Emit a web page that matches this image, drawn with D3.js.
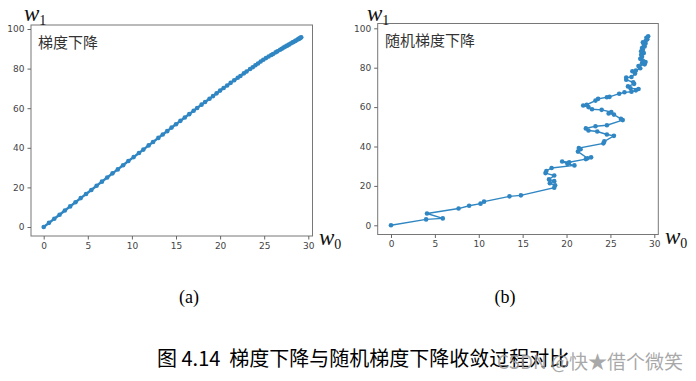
<!DOCTYPE html>
<html><head><meta charset="utf-8">
<script src="https://cdn.jsdelivr.net/npm/d3@7"></script>
<style>body{margin:0;background:#fff}svg{display:block}</style>
</head><body>
<script>
// Gradient descent path (w0, w1)
const gdW0 = [0,0.6,1.2,1.8,2.4,3.0,3.6,4.2,4.8,5.4,6.0,6.6,7.2,7.8,8.4,9.0,9.6,10.2,10.8,11.3,11.9,12.4,13.0,13.5,14.0,14.5,15.0,15.5,16.0,16.5,17.0,17.4,17.9,18.3,18.8,19.2,19.6,20.0,20.4,20.8,21.2,21.6,22.0,22.3,22.7,23.0,23.4,23.7,24.0,24.3,24.6,24.9,25.2,25.5,25.8,26.0,26.3,26.5,26.8,27.0,27.2,27.4,27.6,27.8,28.0,28.2,28.3,28.5,28.6,28.8,28.9,29.0,29.1,29.2];
const gdW1 = [0,2.1,4.2,6.2,8.3,10.4,12.5,14.6,16.7,18.7,20.8,22.9,25.0,27.1,29.1,31.2,33.3,35.3,37.4,39.1,41.2,42.9,45.0,46.7,48.4,50.2,51.9,53.6,55.3,57.0,58.7,60.1,61.8,63.1,64.8,66.1,67.5,68.9,70.2,71.5,72.8,74.1,75.4,76.3,77.6,78.5,79.8,80.7,81.7,82.6,83.6,84.5,85.3,86.1,86.9,87.4,88.2,88.7,89.5,90.0,90.6,91.1,91.6,92.1,92.7,93.2,93.4,93.9,94.2,94.7,95.0,95.2,95.5,95.8];

// Stochastic gradient descent path (w0, w1)
const sgdW0 = [0,4.0,5.9,4.1,7.7,8.9,10.2,10.6,13.5,14.8,18.6,18.7,18.1,18.6,18.0,18.6,17.6,17.7,18.3,20.9,20.1,19.5,20.3,22.2,22.8,22.4,21.3,21.6,21.4,24.2,24.3,25.4,24.6,23.5,22.5,22.2,23.3,24.6,26.4,26.2,25.4,24.8,25.1,24.0,22.9,22.5,21.9,22.3,23.3,23.6,24.6,24.9,26.0,26.6,27.4,27.9,28.2,27.3,27.0,27.7,27.6,26.8,26.8,27.4,27.8,27.5,27.9,28.4,28.2,28.9,28.6,29.0,28.7,28.4,28.6,28.5,28.8,28.5,28.7,28.6,28.9,28.8,29.0,28.7,29.0,29.2,29.1,29.3];
const sgdW1 = [0,3.0,3.5,6.0,8.5,9.9,11.0,12.0,14.7,15.2,19.1,20.3,21.4,22.4,23.3,25.3,26.5,27.6,29.1,30.4,31.2,32.4,32.0,33.6,34.5,34.0,37.4,38.6,39.2,41.6,42.6,45.4,46.1,47.6,48.1,49.2,50.3,50.8,53.4,54.0,56.2,56.8,57.5,58.6,58.9,60.0,60.8,61.2,63.3,64.2,65.0,65.2,66.8,67.5,67.8,68.5,69.2,69.5,70.5,71.8,72.6,73.9,75.0,75.3,77.0,78.2,78.6,79.7,80.8,81.7,82.3,82.9,83.5,84.5,85.5,86.6,87.4,88.3,89.1,90.0,90.8,91.7,92.3,92.9,93.5,94.4,95.2,96.0];

const xTicks = [0,5,10,15,20,25,30];
const yTicks = [0,20,40,60,80,100];
const subLabels = ["(a)","(b)"];
const panelTitles = ["梯度下降","随机梯度下降"];
const caption = "图 4.14  梯度下降与随机梯度下降收敛过程对比";
const watermark = "CSDN @快★借个微笑";

const W = 696, H = 381;
const svg = d3.select("body").append("svg").attr("width", W).attr("height", H);
const blue = "#2f86c2";

const panels = [
  {box:[31,25,312.5,236], x0:43.7, x30:308.3, y0:227, y100:29, w0:gdW0, w1:gdW1, title:panelTitles[0], tx:38, ty:48, lw:2.4, wl1:[24,21], wl0:[319,245], sub:[189,303], label:subLabels[0]},
  {box:[377.7,23.5,658.3,234.5], x0:391, x30:654.3, y0:225.3, y100:28.3, w0:sgdW0, w1:sgdW1, title:panelTitles[1], tx:385, ty:46, lw:1.4, wl1:[367,21], wl0:[665,244], sub:[505,303], label:subLabels[1]}
];

panels.forEach(p => {
  const g = svg.append("g");
  const x = d3.scaleLinear().domain([0,30]).range([p.x0, p.x30]);
  const y = d3.scaleLinear().domain([0,100]).range([p.y0, p.y100]);
  const [L,T,R,B] = p.box;
  g.append("rect").attr("x",L).attr("y",T).attr("width",R-L).attr("height",B-T)
    .attr("fill","none").attr("stroke","#777").attr("stroke-width",1);

  const xa = g.append("g").attr("transform",`translate(0,${B})`)
    .call(d3.axisBottom(x).tickValues(xTicks).tickSize(3.5).tickPadding(3));
  const ya = g.append("g").attr("transform",`translate(${L},0)`)
    .call(d3.axisLeft(y).tickValues(yTicks).tickSize(3.5).tickPadding(3));
  [xa,ya].forEach(a => {
    a.select(".domain").remove();
    a.selectAll("line").attr("stroke","#666");
    a.selectAll("text").attr("fill","#444").style("font-family","DejaVu Sans").style("font-size","9px");
  });

  const pts = p.w0.map((v,i)=>[v,p.w1[i]]);
  g.append("path").datum(pts)
    .attr("d", d3.line().x(d=>x(d[0])).y(d=>y(d[1])))
    .attr("fill","none").attr("stroke",blue).attr("stroke-width",p.lw);
  g.selectAll("circle").data(pts).enter().append("circle")
    .attr("cx",d=>x(d[0])).attr("cy",d=>y(d[1])).attr("r",2.3).attr("fill",blue);

  g.append("text").attr("x",p.tx).attr("y",p.ty).text(p.title)
    .style("font-family","Noto Sans CJK SC").style("font-size","15px").attr("fill","#333");

  const t1 = g.append("text").attr("x",p.wl1[0]).attr("y",p.wl1[1])
    .style("font-family","Liberation Serif").attr("fill","#111");
  t1.append("tspan").text("w").style("font-style","italic").style("font-size","23px");
  t1.append("tspan").text("1").attr("dy",4).style("font-size","14px");
  const t0 = g.append("text").attr("x",p.wl0[0]).attr("y",p.wl0[1])
    .style("font-family","Liberation Serif").attr("fill","#111");
  t0.append("tspan").text("w").style("font-style","italic").style("font-size","23px");
  t0.append("tspan").text("0").attr("dy",4).style("font-size","14px");

  svg.append("text").attr("x",p.sub[0]).attr("y",p.sub[1]).attr("text-anchor","middle")
    .text(p.label)
    .style("font-family","Liberation Serif").style("font-size","18px").attr("fill","#000");
});

svg.append("text").attr("x",157).attr("y",366).text(caption)
  .style("font-family","Noto Sans CJK SC").style("font-size","20px").attr("fill","#000")
  .style("white-space","pre");
svg.append("text").attr("x",497).attr("y",369).text(watermark)
  .style("font-family","Noto Sans CJK SC").style("font-size","19px").attr("fill","#999").attr("fill-opacity",0.85);
</script>
</body></html>
